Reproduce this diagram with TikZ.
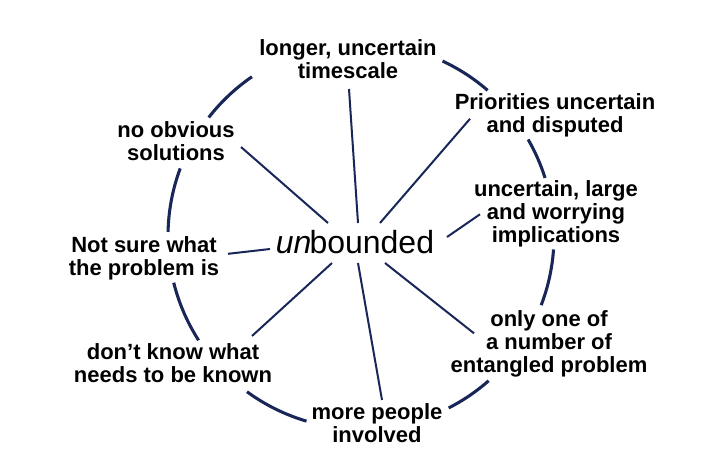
\documentclass[tikz,border=0pt]{standalone}
\usepackage{fontspec}
\setmainfont{Liberation Sans}
\usepackage{xcolor}
\usetikzlibrary{calc}
\definecolor{ringblue}{RGB}{24,38,88}

\begin{document}
\begin{tikzpicture}[x=0.75pt, y=0.75pt,
  issue/.style={align=center, font=\fontsize{16.5}{17.25}\selectfont\bfseries, inner sep=2pt},
  core/.style={font=\fontsize{24}{26}\selectfont, inner sep=2pt},
  spoke/.style={draw=ringblue, line width=1.5pt},
  ring/.style={draw=ringblue, line width=2.3pt}]

\useasboundingbox (0,0) rectangle (710,-451);

\coordinate (ringc) at (361,-236);
\node[core] (unb) at (355,-242) {\textit{un}\kern-1.5pt bounded};

\node[issue] (time) at (348,-59.5) {longer, uncertain\\timescale};
\node[issue] (prio) at (555,-115.8) {Priorities uncertain\\and disputed};
\node[issue] (obvious) at (176,-141.5) {no obvious\\solutions};
\node[issue] (impl) at (556,-214.3) {uncertain, large\\and worrying\\implications};
\node[issue] (notsure) at (144,-258.8) {Not sure what\\the problem is};
\node[issue] (entangl) at (549,-344.3) {only one of\\a number of\\entangled problem};
\node[issue] (known) at (173,-363.5) {don’t know what\\needs to be known};
\node[issue] (people) at (377,-423) {more people\\involved};

% spokes
\draw[spoke] ($(unb)+(3,19)$) -- ($(time)+(1,-29.5)$);
\draw[spoke] ($(unb)+(-27,19)$) -- ($(obvious)+(65,-5.5)$);
\draw[spoke] ($(unb)+(25,19)$) -- ($(prio)+(-85,-3)$);
\draw[spoke] ($(unb)+(92,5)$) -- ($(impl)+(-76,0)$);
\draw[spoke] ($(unb)+(-85,-7)$) -- ($(notsure)+(84,5)$);
\draw[spoke] ($(unb)+(-23,-21)$) -- ($(known)+(79,27.5)$);
\draw[spoke] ($(unb)+(3,-21)$) -- ($(people)+(5,23)$);
\draw[spoke] ($(unb)+(30,-21)$) -- ($(entangl)+(-75,11)$);

% ring pieces between the labels
\foreach \a/\b in {65/49, 30/17.5, -4/-21, -48.6/-63, 253.6/233.8, 212.7/194, 178.8/159.5, 142.1/124.4}
  \draw[ring] ($(ringc)+(\a:193)$) arc[start angle=\a, end angle=\b, radius=193];
\end{tikzpicture}
\end{document}
